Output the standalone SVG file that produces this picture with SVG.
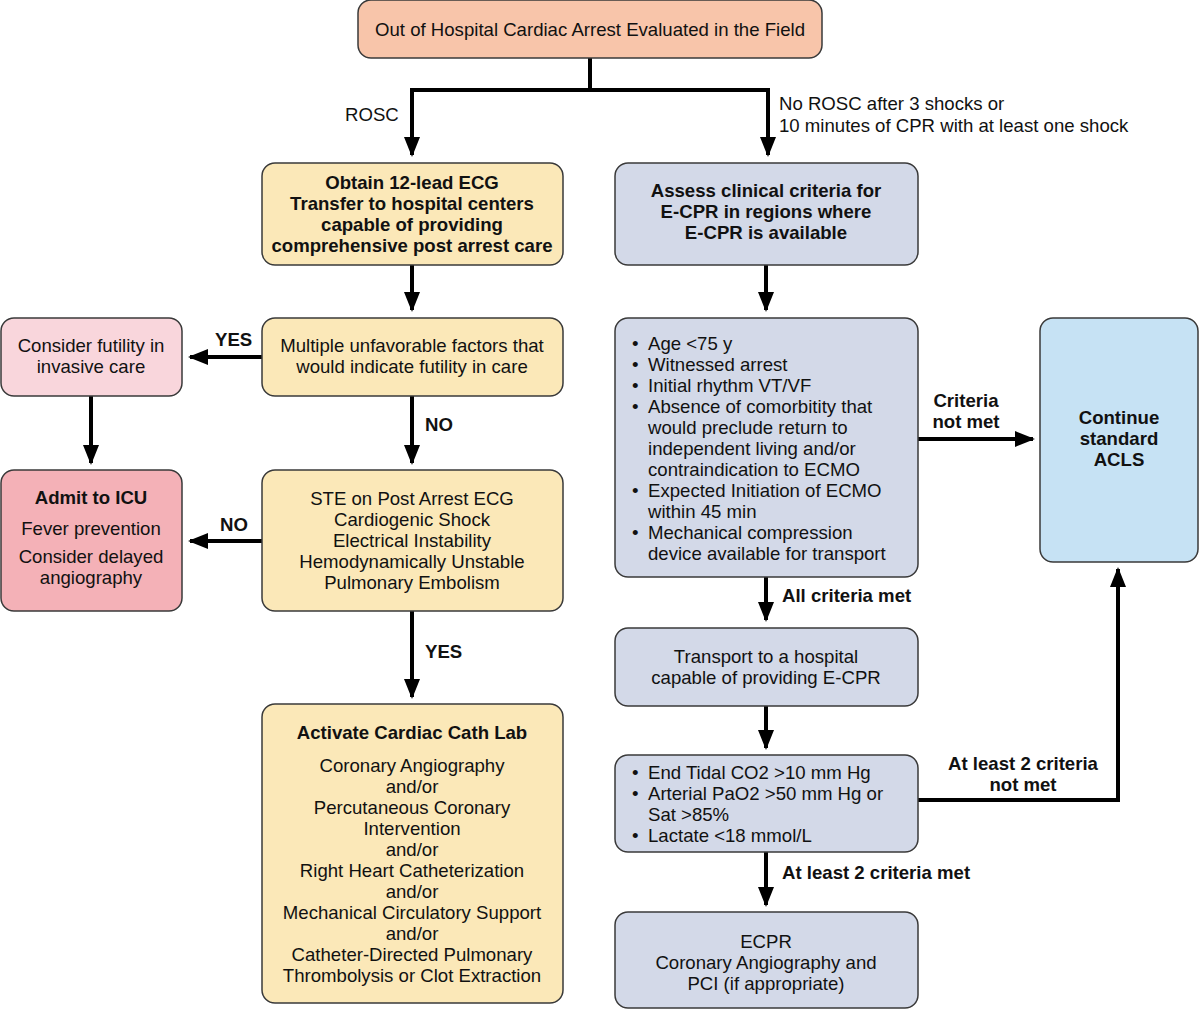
<svg xmlns="http://www.w3.org/2000/svg" width="1200" height="1010" viewBox="0 0 1200 1010">
<style>
text{font-family:"Liberation Sans",Arial,sans-serif;font-size:18.6px;fill:#111}
.c{text-anchor:middle}
.b{font-weight:bold}
.box{stroke:#3a3a3a;stroke-width:1.5}
.ln{stroke:#000;stroke-width:4;fill:none}
.or{fill:#f8c5aa}.ye{fill:#fbe8b8}.bl{fill:#d3d9e8}.pk{fill:#f9d6dc}.rd{fill:#f4b1b7}.sk{fill:#c6e2f4}
</style>
<defs>
<marker id="ah" markerUnits="userSpaceOnUse" markerWidth="20" markerHeight="20" viewBox="0 0 20 16" refX="18" refY="8" orient="auto">
<path d="M0,0 L20,8 L0,16 Z" fill="#000"/>
</marker>
</defs>
<g id="connectors">
<path class="ln" d="M590,58 V90 M412,90 H768"/>
<path class="ln" d="M412,88 V155" marker-end="url(#ah)"/>
<path class="ln" d="M768,88 V155" marker-end="url(#ah)"/>
<path class="ln" d="M412,265 V310" marker-end="url(#ah)"/>
<path class="ln" d="M766,265 V310" marker-end="url(#ah)"/>
<path class="ln" d="M262,357 H190" marker-end="url(#ah)"/>
<path class="ln" d="M91,396 V463" marker-end="url(#ah)"/>
<path class="ln" d="M412,396 V463" marker-end="url(#ah)"/>
<path class="ln" d="M262,541 H190" marker-end="url(#ah)"/>
<path class="ln" d="M412,611 V697" marker-end="url(#ah)"/>
<path class="ln" d="M918,439 H1033" marker-end="url(#ah)"/>
<path class="ln" d="M766,577 V620" marker-end="url(#ah)"/>
<path class="ln" d="M766,706 V748" marker-end="url(#ah)"/>
<path class="ln" d="M918,800 H1118 V569" marker-end="url(#ah)"/>
<path class="ln" d="M766,852 V905" marker-end="url(#ah)"/>
<text x="345" y="121">ROSC</text>
<text x="779" y="110">No ROSC after 3 shocks or</text>
<text x="779" y="132">10 minutes of CPR with at least one shock</text>
<text x="215" y="346" class="b">YES</text>
<text x="425" y="431" class="b">NO</text>
<text x="220" y="531" class="b">NO</text>
<text x="425" y="658" class="b">YES</text>
<text x="966" y="407" class="b c">Criteria</text>
<text x="966" y="428" class="b c">not met</text>
<text x="782" y="602" class="b">All criteria met</text>
<text x="1023" y="770" class="b c">At least 2 criteria</text>
<text x="1023" y="791" class="b c">not met</text>
<text x="782" y="879" class="b">At least 2 criteria met</text>
</g>
<g id="n-start">
<rect class="box or" x="358" y="0" width="464" height="58" rx="13"/>
<text x="590" y="36" class="c">Out of Hospital Cardiac Arrest Evaluated in the Field</text>
</g>
<g id="n-ecg">
<rect class="box ye" x="262" y="163" width="301" height="102" rx="13"/>
<text x="412" y="189" class="c b">Obtain 12-lead ECG</text>
<text x="412" y="210" class="c b">Transfer to hospital centers</text>
<text x="412" y="231" class="c b">capable of providing</text>
<text x="412" y="252" class="c b">comprehensive post arrest care</text>
</g>
<g id="n-assess">
<rect class="box bl" x="615" y="163" width="303" height="102" rx="13"/>
<text x="766" y="197" class="c b">Assess clinical criteria for</text>
<text x="766" y="218" class="c b">E-CPR in regions where</text>
<text x="766" y="239" class="c b">E-CPR is available</text>
</g>
<g id="n-futility">
<rect class="box pk" x="1" y="318" width="181" height="78" rx="13"/>
<text x="91" y="352" class="c">Consider futility in</text>
<text x="91" y="373" class="c">invasive care</text>
</g>
<g id="n-multiple">
<rect class="box ye" x="262" y="318" width="301" height="78" rx="13"/>
<text x="412" y="352" class="c">Multiple unfavorable factors that</text>
<text x="412" y="373" class="c">would indicate futility in care</text>
</g>
<g id="n-icu">
<rect class="box rd" x="1" y="470" width="181" height="141" rx="13"/>
<text x="91" y="504" class="c b">Admit to ICU</text>
<text x="91" y="535" class="c">Fever prevention</text>
<text x="91" y="563" class="c">Consider delayed</text>
<text x="91" y="584" class="c">angiography</text>
</g>
<g id="n-ste">
<rect class="box ye" x="262" y="470" width="301" height="141" rx="13"/>
<text x="412" y="505" class="c">STE on Post Arrest ECG</text>
<text x="412" y="526" class="c">Cardiogenic Shock</text>
<text x="412" y="547" class="c">Electrical Instability</text>
<text x="412" y="568" class="c">Hemodynamically Unstable</text>
<text x="412" y="589" class="c">Pulmonary Embolism</text>
</g>
<g id="n-cath">
<rect class="box ye" x="262" y="704" width="301" height="299" rx="13"/>
<text x="412" y="739" class="c b">Activate Cardiac Cath Lab</text>
<text x="412" y="772" class="c">Coronary Angiography</text>
<text x="412" y="793" class="c">and/or</text>
<text x="412" y="814" class="c">Percutaneous Coronary</text>
<text x="412" y="835" class="c">Intervention</text>
<text x="412" y="856" class="c">and/or</text>
<text x="412" y="877" class="c">Right Heart Catheterization</text>
<text x="412" y="898" class="c">and/or</text>
<text x="412" y="919" class="c">Mechanical Circulatory Support</text>
<text x="412" y="940" class="c">and/or</text>
<text x="412" y="961" class="c">Catheter-Directed Pulmonary</text>
<text x="412" y="982" class="c">Thrombolysis or Clot Extraction</text>
</g>
<g id="n-criteria">
<rect class="box bl" x="615" y="318" width="303" height="259" rx="13"/>
<text x="632" y="350">•</text><text x="648" y="350">Age &lt;75 y</text>
<text x="632" y="371">•</text><text x="648" y="371">Witnessed arrest</text>
<text x="632" y="392">•</text><text x="648" y="392">Initial rhythm VT/VF</text>
<text x="632" y="413">•</text><text x="648" y="413">Absence of comorbitity that</text>
<text x="648" y="434">would preclude return to</text>
<text x="648" y="455">independent living and/or</text>
<text x="648" y="476">contraindication to ECMO</text>
<text x="632" y="497">•</text><text x="648" y="497">Expected Initiation of ECMO</text>
<text x="648" y="518">within 45 min</text>
<text x="632" y="539">•</text><text x="648" y="539">Mechanical compression</text>
<text x="648" y="560">device available for transport</text>
</g>
<g id="n-acls">
<rect class="box sk" x="1040" y="318" width="158" height="244" rx="13"/>
<text x="1119" y="424" class="c b">Continue</text>
<text x="1119" y="445" class="c b">standard</text>
<text x="1119" y="466" class="c b">ACLS</text>
</g>
<g id="n-transport">
<rect class="box bl" x="615" y="628" width="303" height="78" rx="13"/>
<text x="766" y="663" class="c">Transport to a hospital</text>
<text x="766" y="684" class="c">capable of providing E-CPR</text>
</g>
<g id="n-etco2">
<rect class="box bl" x="615" y="755" width="303" height="97" rx="13"/>
<text x="632" y="779">•</text><text x="648" y="779">End Tidal CO2 &gt;10 mm Hg</text>
<text x="632" y="800">•</text><text x="648" y="800">Arterial PaO2 &gt;50 mm Hg or</text>
<text x="648" y="821">Sat &gt;85%</text>
<text x="632" y="842">•</text><text x="648" y="842">Lactate &lt;18 mmol/L</text>
</g>
<g id="n-ecpr">
<rect class="box bl" x="615" y="912" width="303" height="96" rx="13"/>
<text x="766" y="948" class="c">ECPR</text>
<text x="766" y="969" class="c">Coronary Angiography and</text>
<text x="766" y="990" class="c">PCI (if appropriate)</text>
</g>
</svg>
